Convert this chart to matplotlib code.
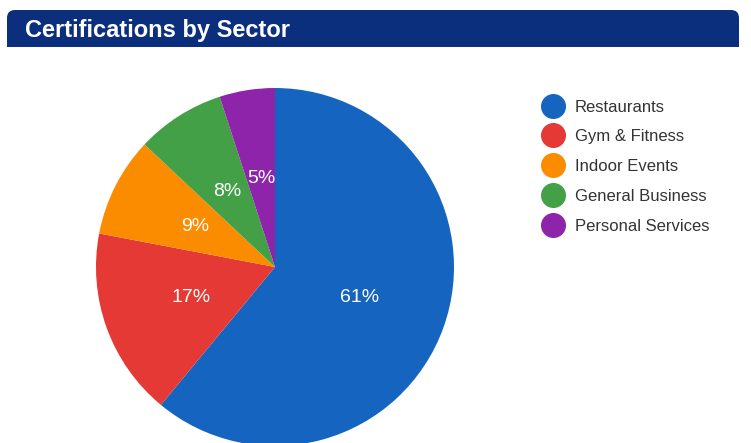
import matplotlib.pyplot as plt
from matplotlib.lines import Line2D
from matplotlib.patches import FancyBboxPatch, Rectangle

plt.rcParams["font.family"] = ["Liberation Sans", "DejaVu Sans"]

TITLE = "Certifications by Sector"
sectors = ["Restaurants", "Gym & Fitness", "Indoor Events", "General Business", "Personal Services"]
shares = [61, 17, 9, 8, 5]
colors = ["#1565c0", "#e53935", "#fb8c00", "#43a047", "#8e24aa"]

W, H, DPI = 751, 443, 100
fig = plt.figure(figsize=(W / DPI, H / DPI), dpi=DPI)
fig.patch.set_facecolor("white")


def px_box(x0, y0, x1, y1):
    # pixel box measured from the top-left -> inches from the bottom-left
    return x0 / DPI, (H - y1) / DPI, (x1 - x0) / DPI, (y1 - y0) / DPI


# header bar: rounded top corners, square bottom
navy = "#0b2f7c"
bx, by, bw, bh = px_box(7, 10, 739, 47)
r = 8 / DPI
fig.patches.append(FancyBboxPatch((bx + r, by + r), bw - 2 * r, bh - 2 * r,
                                  boxstyle=f"round,pad={r}", transform=fig.dpi_scale_trans,
                                  facecolor=navy, edgecolor="none"))
fig.patches.append(Rectangle((bx, by), bw, bh / 2, transform=fig.dpi_scale_trans,
                             facecolor=navy, edgecolor="none"))
fig.text(25 / W, 1 - 30 / H, TITLE, color="white", fontsize=17, fontweight="bold",
         va="center", ha="left")

# pie: centre (275, 267) px, radius 179 px
cx, cy, rad = 275, 267, 179
ax = fig.add_axes([(cx - rad) / W, (H - cy - rad) / H, 2 * rad / W, 2 * rad / H])
wedges, _, autotexts = ax.pie(shares, colors=colors, startangle=90, counterclock=False,
                              autopct="%1.0f%%", pctdistance=0.5,
                              wedgeprops={"linewidth": 0},
                              textprops={"color": "white", "fontsize": 14})
ax.set_xlim(-1, 1)
ax.set_ylim(-1, 1)
ax.set_aspect("equal")
for p in wedges:
    p.set_clip_on(False)

handles = [Line2D([], [], marker="o", linestyle="", markersize=17, color=c) for c in colors]
fig.legend(handles, sectors, loc="upper left", bbox_to_anchor=(540.5 / W, 1 - 99.5 / H),
           frameon=False, fontsize=12, labelcolor="#333333", handlelength=1.5,
           handletextpad=0.57, labelspacing=0.89, borderpad=0, borderaxespad=0)

fig.savefig("out.png", dpi=DPI, facecolor="white")
